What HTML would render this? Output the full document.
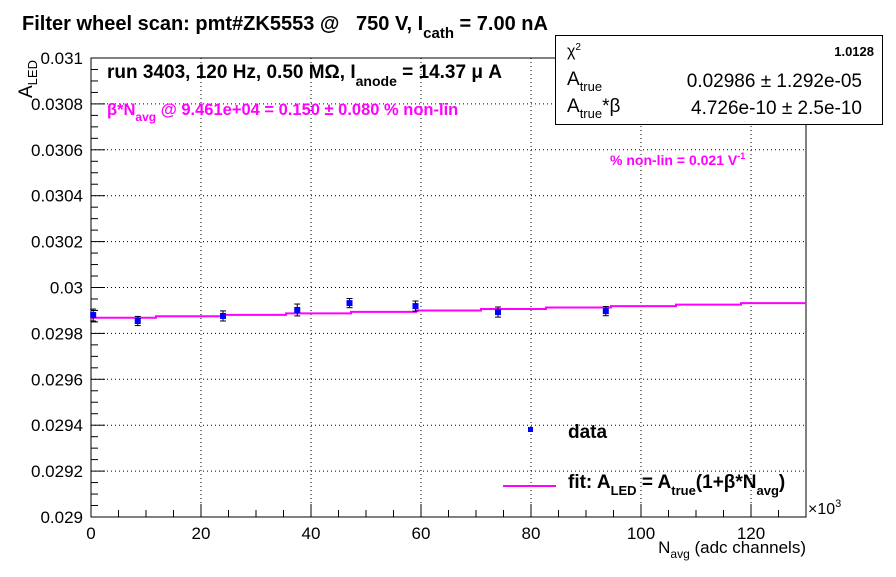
<!DOCTYPE html>
<html><head><meta charset="utf-8"><style>
body{margin:0;background:#fff;}
svg text{font-family:"Liberation Sans",Arial,sans-serif;white-space:pre;}
</style></head><body>
<svg width="896" height="572" viewBox="0 0 896 572" xml:space="preserve">
<rect width="896" height="572" fill="#fff"/>
<g id="grid"></g>
<g id="axes"></g>
<g id="marks"></g>
<text x="22" y="30" font-size="20" font-weight="bold">Filter wheel scan: pmt#ZK5553 @   750 V, I<tspan font-size="15" dy="8">cath</tspan><tspan dy="-8"> = 7.00 nA</tspan></text>
<text x="107" y="78" font-size="19" font-weight="bold">run 3403, 120 Hz, 0.50 MΩ, I<tspan font-size="14" dy="8">anode</tspan><tspan dy="-8"> = 14.37 μ A</tspan></text>
<text x="107" y="115" font-size="16.5" font-weight="bold" fill="#ff00ff">β*N<tspan font-size="12" dy="6">avg</tspan><tspan dy="-6"> @ 9.461e+04 = 0.150 ± 0.080 % non-lin</tspan></text>
<text x="610" y="165" font-size="14" font-weight="bold" fill="#ff00ff">% non-lin = 0.021 V<tspan font-size="9" dy="-6">-1</tspan></text>
<g>
<rect x="555.5" y="35.5" width="327" height="89" fill="#fff" stroke="#000"/>
<text x="567" y="56" font-size="16">χ<tspan font-size="10" dy="-6">2</tspan></text>
<text x="874" y="56" font-size="13" font-weight="bold" text-anchor="end">1.0128</text>
<text x="567" y="85" font-size="19">A<tspan font-size="13" dy="6">true</tspan></text>
<text x="862" y="87" font-size="19" text-anchor="end">0.02986 ± 1.292e-05</text>
<text x="567" y="112" font-size="19">A<tspan font-size="13" dy="6">true</tspan><tspan dy="-6">*β</tspan></text>
<text x="862" y="114" font-size="19" text-anchor="end">4.726e-10 ± 2.5e-10</text>
</g>
<g>
<rect x="528" y="427" width="5" height="5" fill="#0000ff"/>
<text x="568" y="438" font-size="19" font-weight="bold">data</text>
<line x1="503" y1="486" x2="556" y2="486" stroke="#ff00ff" stroke-width="2"/>
<text x="568" y="488" font-size="19" font-weight="bold">fit: A<tspan font-size="13" dy="7">LED</tspan><tspan dy="-7"> = A</tspan><tspan font-size="13" dy="7">true</tspan><tspan dy="-7">(1+β*N</tspan><tspan font-size="13" dy="7">avg</tspan><tspan dy="-7">)</tspan></text>
</g>
<text x="808" y="514" font-size="16">×10<tspan font-size="11" dy="-7">3</tspan></text>
<text x="806" y="553" font-size="17" text-anchor="end">N<tspan font-size="12" dy="5">avg</tspan><tspan dy="-5"> (adc channels)</tspan></text>
<text transform="translate(32,98) rotate(-90)" font-size="19">A<tspan font-size="13" dy="5">LED</tspan></text>
</svg>
<script>
const xs=[0.4,8.5,24,37.5,47,59,74,93.6];
const ys=[0.02988,0.029854,0.029876,0.029902,0.029932,0.029919,0.029893,0.029897];
const errs=[0.000026,0.000020,0.000022,0.000026,0.000020,0.000022,0.000022,0.000020];
const fitA=0.029865;
const fitB=1.8e-5; // per k-channel
const xTicks=[0,20,40,60,80,100,120];
const yTicks=[0.029,0.0292,0.0294,0.0296,0.0298,0.03,0.0302,0.0304,0.0306,0.0308,0.031];
const yLabels=["0.029","0.0292","0.0294","0.0296","0.0298","0.03","0.0302","0.0304","0.0306","0.0308","0.031"];
const L=91,R=806,T=58,B=517,XMAX=130,YMIN=0.029,YMAX=0.031;
const X=v=>L+(v/XMAX)*(R-L);
const Y=v=>B-(v-YMIN)/(YMAX-YMIN)*(B-T);
const NS="http://www.w3.org/2000/svg";
function mk(p,tag,at){const e=document.createElementNS(NS,tag);for(const k in at)e.setAttribute(k,at[k]);p.appendChild(e);return e;}
const grid=document.getElementById('grid'),axes=document.getElementById('axes'),marks=document.getElementById('marks');
xTicks.forEach(t=>{if(t>0){const g=mk(grid,'line',{x1:X(t),x2:X(t),y1:T,y2:B,stroke:'#000','stroke-dasharray':'1,3'});

}
const tx=mk(axes,'text',{x:X(t),y:B+22,'font-size':17,'text-anchor':'middle'});tx.textContent=t;

});
for(let v=0;v<=XMAX;v+=5){const big=v%20===0;mk(axes,'line',{x1:X(v),x2:X(v),y1:B,y2:B-(big?13:7),stroke:'#000'});}
yTicks.forEach((t,i)=>{if(i>0&&i<yTicks.length-1){const g=mk(grid,'line',{x1:L,x2:R,y1:Y(t),y2:Y(t),stroke:'#000','stroke-dasharray':'1,3'});

}
const tx=mk(axes,'text',{x:L-8,y:Y(t)+6,'font-size':17,'text-anchor':'end'});tx.textContent=yLabels[i];

});
for(let k=0;k<=40;k++){const v=YMIN+k*0.00005;const big=k%4===0;mk(axes,'line',{x1:L,x2:L+(big?14:7),y1:Y(v),y2:Y(v),stroke:'#000'});}
const fr=mk(axes,'rect',{x:L,y:T,width:R-L,height:B-T,fill:'none',stroke:'#000'});


let d='';
const NSTEP=11;
for(let s=0;s<NSTEP;s++){const x0=s*XMAX/NSTEP,x1=(s+1)*XMAX/NSTEP,xm=(x0+x1)/2;const yv=Y(fitA*(1+fitB*xm));d+=(s?'L':'M')+X(x0)+','+yv+'L'+X(x1)+','+yv;}
const fl=mk(marks,'path',{d:d,fill:'none',stroke:'#ff00ff','stroke-width':2});


xs.forEach((x,i)=>{const cx=X(x),cy=Y(ys[i]),e=Y(ys[i]-errs[i])-cy;
const g=mk(marks,'g',{});


mk(g,'line',{x1:cx,x2:cx,y1:cy-e,y2:cy+e,stroke:'#000'});
mk(g,'line',{x1:cx-3,x2:cx+3,y1:cy-e,y2:cy-e,stroke:'#000'});
mk(g,'line',{x1:cx-3,x2:cx+3,y1:cy+e,y2:cy+e,stroke:'#000'});
mk(g,'rect',{x:cx-3,y:cy-3,width:6,height:6,fill:'#0000ff'});});
</script>
</body></html>
